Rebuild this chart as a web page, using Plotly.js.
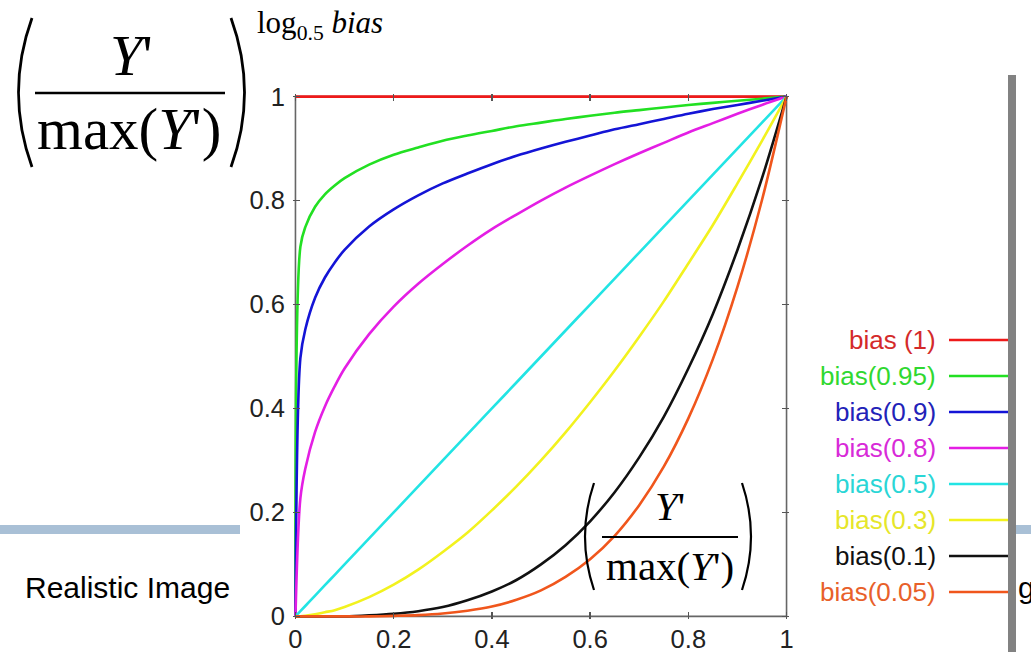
<!DOCTYPE html>
<html>
<head>
<meta charset="utf-8">
<script src="https://cdn.plot.ly/plotly-3.0.1.min.js"></script>
<style>html,body{margin:0;padding:0;background:#fff;}#chart{width:1031px;height:652px;}</style>
</head>
<body>
<div id="chart"></div>
<script>
// ---- data ----
const xVals = [0, 0.01, 0.02, 0.04, 0.06, 0.08, 0.1, 0.15, 0.2, 0.25, 0.3, 0.35, 0.4, 0.45, 0.5, 0.55, 0.6, 0.65, 0.7, 0.75, 0.8, 0.85, 0.9, 0.95, 1];
const bias1    = [1, 1, 1, 1, 1, 1, 1, 1, 1, 1, 1, 1, 1, 1, 1, 1, 1, 1, 1, 1, 1, 1, 1, 1, 1];
const bias095  = [0, 0.711, 0.749, 0.788, 0.812, 0.829, 0.843, 0.869, 0.888, 0.902, 0.915, 0.925, 0.934, 0.943, 0.95, 0.957, 0.963, 0.969, 0.974, 0.979, 0.984, 0.988, 0.992, 0.996, 1];
const bias09   = [0, 0.497, 0.552, 0.613, 0.652, 0.681, 0.705, 0.75, 0.783, 0.81, 0.833, 0.852, 0.87, 0.886, 0.90, 0.913, 0.925, 0.937, 0.947, 0.957, 0.967, 0.976, 0.984, 0.992, 1];
const bias08   = [0, 0.227, 0.284, 0.355, 0.404, 0.443, 0.477, 0.543, 0.596, 0.64, 0.678, 0.713, 0.745, 0.773, 0.80, 0.825, 0.848, 0.87, 0.891, 0.911, 0.931, 0.949, 0.967, 0.984, 1];
const bias05   = [0, 0.01, 0.02, 0.04, 0.06, 0.08, 0.1, 0.15, 0.2, 0.25, 0.3, 0.35, 0.4, 0.45, 0.5, 0.55, 0.6, 0.65, 0.7, 0.75, 0.8, 0.85, 0.9, 0.95, 1];
const bias03   = [0, 0, 0.001, 0.004, 0.008, 0.012, 0.018, 0.037, 0.061, 0.09, 0.124, 0.161, 0.204, 0.25, 0.30, 0.354, 0.412, 0.473, 0.538, 0.606, 0.679, 0.753, 0.833, 0.915, 1];
const bias01   = [0, 0, 0, 0, 0, 0, 0, 0.002, 0.005, 0.01, 0.018, 0.031, 0.048, 0.07, 0.10, 0.137, 0.183, 0.239, 0.306, 0.384, 0.477, 0.582, 0.705, 0.843, 1];
const bias005  = [0, 0, 0, 0, 0, 0, 0, 0, 0.001, 0.0025, 0.0055, 0.011, 0.019, 0.032, 0.05, 0.076, 0.11, 0.155, 0.214, 0.288, 0.381, 0.495, 0.634, 0.801, 1];
const seriesNames = ['bias (1)', 'bias(0.95)', 'bias(0.9)', 'bias(0.8)', 'bias(0.5)', 'bias(0.3)', 'bias(0.1)', 'bias(0.05)'];
const tickVals = [0, 0.2, 0.4, 0.6, 0.8, 1];
const tickText = ['0', '0.2', '0.4', '0.6', '0.8', '1'];

// ---- styling ----
const lineColors = ['#ee1a1a', '#22e022', '#1414d6', '#e41ee4', '#22e4e4', '#f2f21e', '#111111', '#f0561c'];
const labelColors = ['#d42a2a', '#30d830', '#2222b8', '#d82ad8', '#2ad6d6', '#e6e62a', '#111111', '#e8602a'];
const seriesY = [bias1, bias095, bias09, bias08, bias05, bias03, bias01, bias005];

const W = 1031, H = 652;
const M = {l: 293, r: 242, t: 94, b: 33};
const PW = W - M.l - M.r, PH = H - M.t - M.b;
const fx = p => (p - M.l) / PW;
const fy = p => (H - M.b - p) / PH;

const traces = seriesY.map((ys, i) => ({
  type: 'scatter', mode: 'lines', x: xVals, y: ys, name: seriesNames[i],
  line: {color: lineColors[i], width: 2.6, shape: 'spline', smoothing: 0.9}, hoverinfo: 'skip', showlegend: false
}));

const shapes = [];
// frame of the plot
shapes.push({type: 'rect', xref: 'x', yref: 'y', x0: 0, x1: 1, y0: 0, y1: 1,
  line: {color: '#666', width: 1.6}, layer: 'below'});

// legend line samples
const legendTop = 340, legendStep = 36.0;
seriesNames.forEach((n, i) => {
  const yy = legendTop + i * legendStep;
  shapes.push({type: 'line', xref: 'paper', yref: 'paper', x0: fx(949), x1: fx(1010), y0: fy(yy), y1: fy(yy),
    line: {color: lineColors[i], width: 2.4}});
});
// decorative bars
shapes.push({type: 'rect', xref: 'paper', yref: 'paper', x0: fx(0), x1: fx(240), y0: fy(534), y1: fy(525),
  fillcolor: '#a9c0d6', line: {width: 0}});
shapes.push({type: 'rect', xref: 'paper', yref: 'paper', x0: fx(1015), x1: fx(1031), y0: fy(534), y1: fy(525),
  fillcolor: '#a9c0d6', line: {width: 0}});
shapes.push({type: 'rect', xref: 'paper', yref: 'paper', x0: fx(1008), x1: fx(1016), y0: fy(652), y1: fy(75),
  fillcolor: '#828282', line: {width: 0}});

// parentheses drawn as curves
function paren(x0, yTop, yBot, bulge) {
  const ym = (yTop + yBot) / 2;
  return 'M ' + fx(x0) + ',' + fy(yTop) + ' Q ' + fx(x0 + bulge) + ',' + fy(ym) + ' ' + fx(x0) + ',' + fy(yBot);
}
shapes.push({type: 'path', xref: 'paper', yref: 'paper', path: paren(32, 18, 167, -27), line: {color: '#000', width: 2.8}});
shapes.push({type: 'path', xref: 'paper', yref: 'paper', path: paren(231, 18, 167, 27), line: {color: '#000', width: 2.8}});
shapes.push({type: 'line', xref: 'paper', yref: 'paper', x0: fx(35), x1: fx(225), y0: fy(93), y1: fy(93), line: {color: '#000', width: 2.4}});
// inner formula
shapes.push({type: 'path', xref: 'paper', yref: 'paper', path: paren(594, 483, 590, -18), line: {color: '#000', width: 2.2}});
shapes.push({type: 'path', xref: 'paper', yref: 'paper', path: paren(742, 483, 590, 18), line: {color: '#000', width: 2.2}});
shapes.push({type: 'line', xref: 'paper', yref: 'paper', x0: fx(602), x1: fx(738), y0: fy(537), y1: fy(537), line: {color: '#000', width: 1.8}});

const serif = 'Liberation Serif, Times New Roman, serif';
const sans = 'Liberation Sans, Arial, sans-serif';
const annotations = [];
function ann(text, x, y, size, family, color, xanchor) {
  annotations.push({text: text, xref: 'paper', yref: 'paper', x: fx(x), y: fy(y), showarrow: false,
    xanchor: xanchor || 'center', yanchor: 'middle', font: {size: size, family: family, color: color || '#000'}});
}
seriesNames.forEach((n, i) => ann(n, 938, legendTop + i * legendStep, 26, sans, labelColors[i], 'right'));
ann('<i>Y</i>\'', 131, 55, 58, serif);
ann('max(<i>Y</i>\')', 129, 129, 59, serif);
ann('log<sub>0.5</sub> <i>bias</i>', 255, 25, 31, serif, '#000', 'left');
ann('<i>Y</i>\'', 670, 506, 41, serif);
ann('max(<i>Y</i>\')', 670, 566, 41, serif);
ann('Realistic Image', 127, 587, 30, sans);
ann('g', 1016, 587, 30, sans, '#000', 'left');

const axisCommon = {
  range: [-0.005, 1.005], tickvals: tickVals, ticktext: tickText, ticks: 'inside', ticklen: 7, tickwidth: 1.4,
  tickcolor: '#555', showline: false, mirror: 'ticks', showgrid: false, zeroline: false,
  tickfont: {family: sans, size: 25.5, color: '#222'}, fixedrange: true
};

const layout = {
  width: W, height: H, margin: M, paper_bgcolor: '#fff', plot_bgcolor: '#fff',
  xaxis: Object.assign({}, axisCommon, {ticklabelstandoff: 2}),
  yaxis: Object.assign({}, axisCommon, {ticklabelstandoff: 7}),
  shapes: shapes, annotations: annotations, showlegend: false
};

Plotly.newPlot('chart', traces, layout, {displayModeBar: false, staticPlot: true});
</script>
</body>
</html>
